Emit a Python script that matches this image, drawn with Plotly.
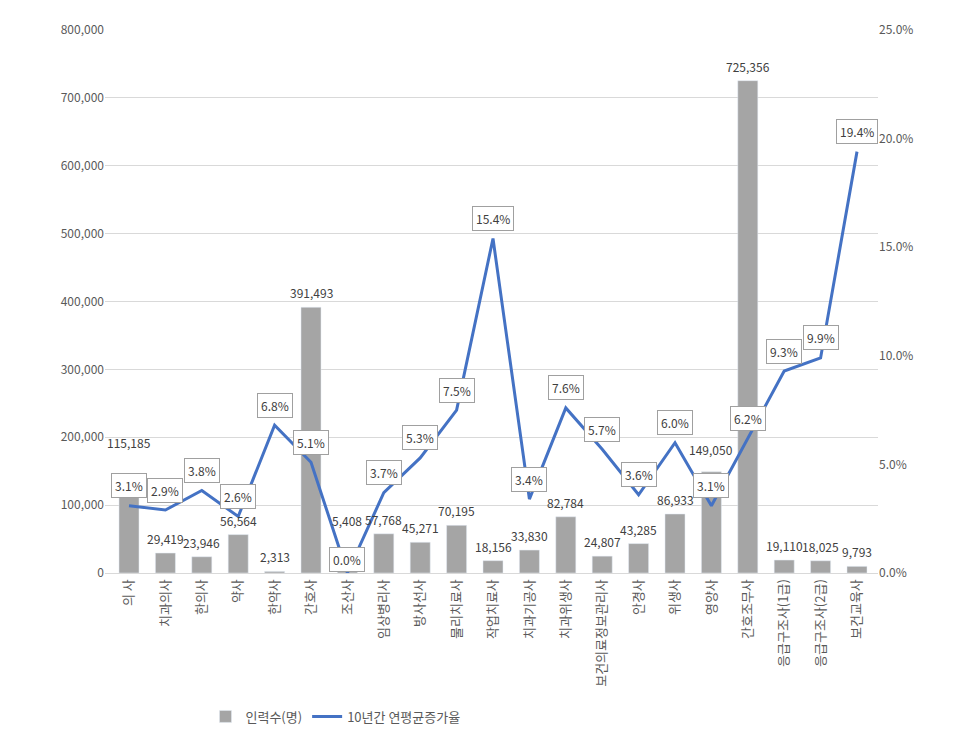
import plotly.graph_objects as go

categories = ["의 사", "치과의사", "한의사", "약사", "한약사", "간호사", "조산사", "임상병리사", "방사선사",
              "물리치료사", "작업치료사", "치과기공사", "치과위생사", "보건의료정보관리사", "안경사", "위생사",
              "영양사", "간호조무사", "응급구조사(1급)", "응급구조사(2급)", "보건교육사"]
workers = [115185, 29419, 23946, 56564, 2313, 391493, 5408, 57768, 45271, 70195, 18156, 33830,
           82784, 24807, 43285, 86933, 149050, 725356, 19110, 18025, 9793]
growth = [3.1, 2.9, 3.8, 2.6, 6.8, 5.1, 0.0, 3.7, 5.3, 7.5, 15.4, 3.4, 7.6, 5.7, 3.6, 6.0, 3.1,
          6.2, 9.3, 9.9, 19.4]

fig = go.Figure()
fig.add_trace(go.Bar(x=categories, y=workers, name="인력수(명)", marker_color="#a5a5a5", width=0.55))
fig.add_trace(go.Scatter(x=categories, y=growth, name="10년간 연평균증가율", yaxis="y2",
                         mode="lines", line=dict(color="#4472c4", width=3)))

# bar value labels (a few lifted to clear the rate boxes)
lift = {0: 42, 6: 38, 16: 12}
for i, (c, v) in enumerate(zip(categories, workers)):
    fig.add_annotation(x=c, y=v, text=f"{v:,}", showarrow=False, yanchor="bottom",
                       yshift=lift.get(i, 4), font=dict(size=12, color="#404040"))

# rate labels
for i, (c, g) in enumerate(zip(categories, growth)):
    fig.add_annotation(x=c, y=g, yref="y2", text=f"{g:.1f}%", showarrow=False,
                       yshift=14 if i == 6 else 20,
                       bgcolor="white", bordercolor="#a0a0a0", borderwidth=1, borderpad=3,
                       font=dict(size=12, color="#404040"))

fig.update_layout(
    width=960, height=738, plot_bgcolor="white", paper_bgcolor="white",
    font=dict(family="Noto Sans CJK KR", size=12, color="#595959"),
    margin=dict(l=97, r=90, t=22, b=173),
    bargap=0.45,
    showlegend=True,
    legend=dict(orientation="h", x=0.13, y=0.04, xanchor="left", yanchor="middle",
                yref="container", font=dict(size=13)),
    xaxis=dict(tickangle=-90, tickfont=dict(size=13), showline=True, linecolor="#d9d9d9"),
    yaxis=dict(range=[0, 800000], dtick=100000, tickformat=",", gridcolor="#d9d9d9",
               tickfont=dict(size=12)),
    yaxis2=dict(range=[0, 25], dtick=5, ticksuffix="%", tickformat=".1f", overlaying="y",
                side="right", showgrid=False, tickfont=dict(size=12)),
)

fig.write_html("out.html")
